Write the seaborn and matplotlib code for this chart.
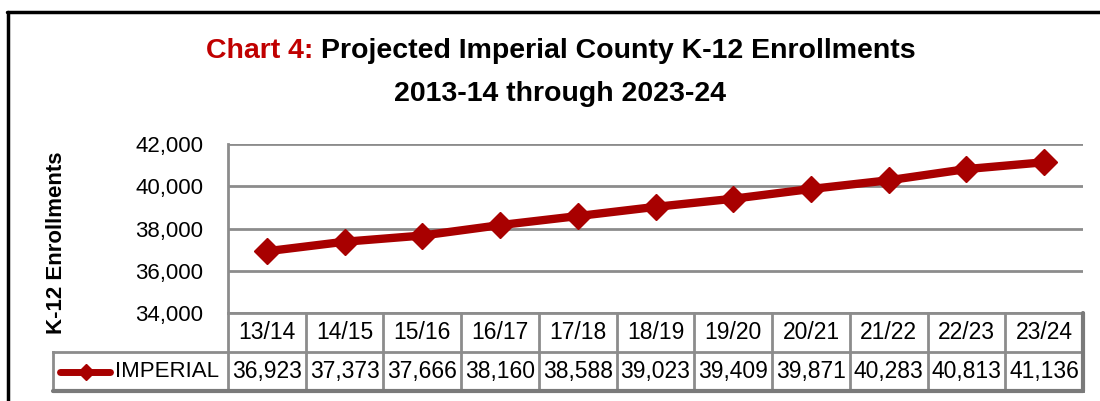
import numpy as np
import pandas as pd
import seaborn as sns
import matplotlib.pyplot as plt
from matplotlib.lines import Line2D

# chart data
years = ["13/14", "14/15", "15/16", "16/17", "17/18", "18/19",
         "19/20", "20/21", "21/22", "22/23", "23/24"]
imperial = [36923, 37373, 37666, 38160, 38588, 39023,
            39409, 39871, 40283, 40813, 41136]
series_name = "IMPERIAL"
y_ticks = [34000, 36000, 38000, 40000, 42000]

W, H = 1100, 401
LINE_RED = "#A80000"
TITLE_RED = "#C00000"
GRID = "#8C8C8C"

sns.set_style("white")
plt.rcParams['font.family'] = ['Liberation Sans', 'DejaVu Sans']
plt.rcParams['text.color'] = 'black'


def fx(px):
    return px / W


def fy(py):
    return 1 - py / H


df = pd.DataFrame({"idx": np.arange(len(years)), "year": years, "value": imperial})

fig = plt.figure(figsize=(W / 100, H / 100), dpi=100)

# plot area
left, right, top, bottom = 228, 1083, 144, 313
ax = fig.add_axes([fx(left), fy(bottom), fx(right - left), (bottom - top) / H])
sns.lineplot(data=df, x="idx", y="value", ax=ax, color=LINE_RED, linewidth=6,
             marker="D", markersize=13, markeredgecolor=LINE_RED,
             markeredgewidth=1, zorder=3)
ax.set_xlim(-0.5, len(years) - 0.5)
ax.set_ylim(y_ticks[0], y_ticks[-1])
ax.set_yticks(y_ticks)
ax.set_yticklabels([f"{v:,}" for v in y_ticks], fontsize=16)
ax.set_xticks([])
ax.set_xlabel("")
ax.set_ylabel("")
ax.grid(axis="y", color=GRID, linewidth=2)
for s in ["top", "right", "bottom"]:
    ax.spines[s].set_visible(False)
ax.spines["left"].set_color(GRID)
ax.spines["left"].set_linewidth(2)
ax.tick_params(axis="y", length=3, color=GRID, width=2, pad=15, labelcolor="black")

# data table under the plot
col_w = (right - left) / len(years)
leg_w = (left - 53) / col_w
x0 = -0.5 - leg_w
axt = fig.add_axes([fx(53), fy(391), fx(right - 53), (391 - bottom) / H])
axt.set_xlim(x0, len(years) - 0.5)
axt.set_ylim(0, 2)
axt.axis("off")


def tx(px):
    return x0 + (px - 53) / col_w


lk = dict(color=GRID, linewidth=2, clip_on=False, solid_capstyle="projecting")
axt.plot([-0.5, len(years) - 0.5], [2, 2], **lk)
axt.plot([x0, len(years) - 0.5], [1, 1], **lk)
axt.plot([x0, len(years) - 0.5], [0, 0], **lk)
axt.plot([x0, x0], [0, 1], **lk)
for i in range(len(years) + 1):
    axt.plot([i - 0.5, i - 0.5], [0, 2], **lk)
# slightly heavier outer edge, like the shadowed border of the original
axt.plot([len(years) - 0.5, len(years) - 0.5], [0, 2], color="#7A7A7A",
         linewidth=3, clip_on=False)
axt.plot([x0, len(years) - 0.5], [0, 0], color="#7A7A7A", linewidth=3,
         clip_on=False)

for i, (yr, v) in enumerate(zip(years, imperial)):
    axt.text(i, 1.5, yr, ha="center", va="center", fontsize=16.5)
    axt.text(i, 0.5, f"{v:,}", ha="center", va="center", fontsize=16.5)

axt.plot([tx(60), tx(110)], [0.5, 0.5], color=LINE_RED, linewidth=5,
         solid_capstyle="round", clip_on=False)
axt.plot([tx(86)], [0.5], marker="D", markersize=8, color=LINE_RED, clip_on=False)
axt.text(tx(219), 0.5, series_name, ha="right", va="center", fontsize=16)

# titles
fig.text(fx(206), fy(51), "Chart 4:", color=TITLE_RED, fontsize=20.5,
         fontweight="bold", ha="left", va="center")
fig.text(fx(321), fy(51), "Projected Imperial County K-12 Enrollments",
         color="black", fontsize=20.5, fontweight="bold", ha="left", va="center")
fig.text(fx(560), fy(94), "2013-14 through 2023-24", color="black",
         fontsize=20.5, fontweight="bold", ha="center", va="center")
fig.text(fx(57), fy(243), "K-12 Enrollments", rotation=90, fontsize=16,
         fontweight="bold", ha="center", va="center")

# outer frame
fig.add_artist(Line2D([fx(7), 1], [fy(12), fy(12)], color="black", linewidth=2.5,
                      transform=fig.transFigure))
fig.add_artist(Line2D([fx(8), fx(8)], [fy(12), 0], color="black", linewidth=2.5,
                      transform=fig.transFigure))

fig.savefig("out.png", dpi=100)
